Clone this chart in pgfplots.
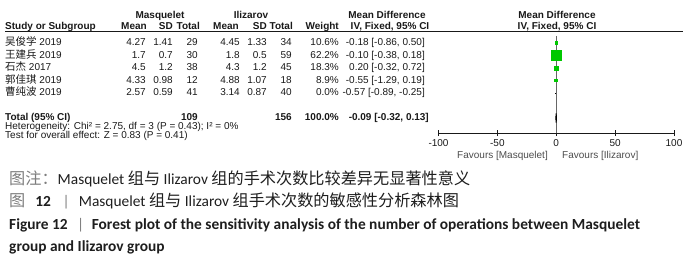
\documentclass[border=0pt]{standalone}
\usepackage{pgfplots}
\pgfplotsset{compat=1.18}
\usepackage{fontspec}
\setmainfont{Liberation Sans}
\newfontfamily\cjk{Noto Sans CJK SC}
\newfontfamily\cjkcap{Noto Sans CJK SC}[Scale=1.05]
\newfontfamily\capfont{Carlito}
\definecolor{boxgreen}{RGB}{0,200,0}
\definecolor{txt}{RGB}{25,25,25}
\definecolor{capgray}{RGB}{125,125,125}
\definecolor{captxt}{RGB}{30,30,30}
\begin{document}
\begin{tikzpicture}
\begin{scope}[x=1pt,y=-1pt]
\useasboundingbox (0,0) rectangle (700,267);
\tikzset{
  t/.style={font=\fontsize{10}{11}\selectfont, text=txt, inner sep=0pt},
  b/.style={font=\fontsize{10}{11}\selectfont\bfseries, text=txt, inner sep=0pt},
  captext/.style={font=\fontsize{15.4}{16}\selectfont\capfont, text=captxt, inner sep=0pt, anchor=base west},
}
% headers
\node[b, anchor=mid] at (160,16) {Masquelet};
\node[b, anchor=mid] at (251,16) {Ilizarov};
\node[b, anchor=mid] at (387,16) {Mean Difference};
\node[b, anchor=mid] at (557,16) {Mean Difference};
\node[b, anchor=mid west] at (5,27) {Study or Subgroup};
\node[b, anchor=mid east] at (147,27) {Mean};
\node[b, anchor=mid east] at (173,27) {SD};
\node[b, anchor=mid east] at (200,27) {Total};
\node[b, anchor=mid east] at (239,27) {Mean};
\node[b, anchor=mid east] at (267,27) {SD};
\node[b, anchor=mid east] at (293,27) {Total};
\node[b, anchor=mid east] at (339,27) {Weight};
\node[b, anchor=mid] at (390,27) {IV, Fixed, 95\% CI};
\node[b, anchor=mid] at (557,27) {IV, Fixed, 95\% CI};
\draw[txt, line width=0.8pt] (5,31.5) -- (683,31.5);
% rows
\foreach \y/\nm/\yr/\ma/\sa/\na/\mb/\sb/\nb/\w/\ci in {
  43/吴俊学/2019/4.27/1.41/29/4.45/1.33/34/10.6\%/{-0.18 [-0.86, 0.50]},
  55.5/王建兵/2019/1.7/0.7/30/1.8/0.5/59/62.2\%/{-0.10 [-0.38, 0.18]},
  68/石杰/2017/4.5/1.2/38/4.3/1.2/45/18.3\%/{0.20 [-0.32, 0.72]},
  80.5/郭佳琪/2019/4.33/0.98/12/4.88/1.07/18/8.9\%/{-0.55 [-1.29, 0.19]},
  93/曹纯波/2019/2.57/0.59/41/3.14/0.87/40/0.0\%/{-0.57 [-0.89, -0.25]}}{
  \node[t, anchor=mid west] at (5,\y) {{\cjk\fontsize{10.5}{11}\selectfont \nm} \yr};
  \node[t, anchor=mid east] at (146,\y) {\ma};
  \node[t, anchor=mid east] at (173,\y) {\sa};
  \node[t, anchor=mid east] at (198,\y) {\na};
  \node[t, anchor=mid east] at (240,\y) {\mb};
  \node[t, anchor=mid east] at (267,\y) {\sb};
  \node[t, anchor=mid east] at (292,\y) {\nb};
  \node[t, anchor=mid east] at (339,\y) {\w};
  \node[t, anchor=mid east] at (425,\y) {\ci};
}
% total
\node[b, anchor=mid west] at (5,118) {Total (95\% CI)};
\node[b, anchor=mid east] at (198,118) {109};
\node[b, anchor=mid east] at (292,118) {156};
\node[b, anchor=mid east] at (339,118) {100.0\%};
\node[b, anchor=mid east] at (429,118) {-0.09 [-0.32, 0.13]};
\node[t, anchor=mid west] at (5,127) {Heterogeneity: Chi² = 2.75, df = 3 (P = 0.43); I² = 0\%};
\node[t, anchor=mid west] at (5,136) {Test for overall effect: Z = 0.83 (P = 0.41)};
% favours
\node[t, anchor=mid east, text=black!70] at (548,155.5) {Favours [Masquelet]};
\node[t, anchor=mid west, text=black!70] at (562,155.5) {Favours [Ilizarov]};
% caption
\node[captext] at (9,184.5) {{\color{capgray}\cjkcap 图注：}Masquelet {\cjkcap 组与} Ilizarov {\cjkcap 组的手术次数比较差异无显著性意义}};
\node[captext] at (9,206) {{\color{capgray}\cjkcap 图}\hspace{0.65em}\textbf{12}\hspace{0.75em}{\color{capgray}|}\hspace{0.6em}Masquelet {\cjkcap 组与} Ilizarov {\cjkcap 组手术次数的敏感性分析森林图}};
\node[captext, font=\fontsize{15.4}{16}\selectfont\capfont\bfseries] at (9,229) {Figure 12\hspace{0.6em}{\mdseries\color{capgray}|}\hspace{0.5em}Forest plot of the sensitivity analysis of the number of operations between Masquelet};
\node[captext, font=\fontsize{15.4}{16}\selectfont\capfont\bfseries] at (9,251) {group and Ilizarov group};
\end{scope}
\begin{axis}[
  at={(438.5pt,-133pt)}, anchor=south west,
  scale only axis, width=235.5pt, height=97pt,
  xmin=-100, xmax=100, ymin=-133, ymax=-36,
  axis x line*=bottom, axis y line=none,
  xtick={-100,-50,0,50,100},
  tick align=center, major tick length=6pt,
  tick style={txt, line width=0.7pt},
  axis line style={txt, line width=0.7pt},
  xticklabel style={font=\fontsize{10}{11}\selectfont, text=txt},
  /pgf/number format/assume math mode=true,
  clip=false,
]
\addplot[black!60, line width=0.6pt] coordinates {(0,-36) (0,-133)};
% confidence intervals
\addplot[black, line width=0.5pt] coordinates {(-0.86,-43) (0.50,-43)};
\addplot[black, line width=0.5pt] coordinates {(-0.38,-55.5) (0.18,-55.5)};
\addplot[black, line width=0.5pt] coordinates {(-0.32,-68) (0.72,-68)};
\addplot[black, line width=0.5pt] coordinates {(-1.29,-80.5) (0.19,-80.5)};
\addplot[black, line width=0.5pt] coordinates {(-0.89,-93) (-0.25,-93)};
% study boxes (size by weight)
\addplot[only marks, mark=square*, mark size=1.3pt, mark options={fill=boxgreen, draw=boxgreen}] coordinates {(-0.18,-43)};
\addplot[only marks, mark=square*, mark size=5pt, mark options={fill=boxgreen, draw=boxgreen}] coordinates {(-0.10,-55.5)};
\addplot[only marks, mark=square*, mark size=2.2pt, mark options={fill=boxgreen, draw=boxgreen}] coordinates {(0.20,-68)};
\addplot[only marks, mark=square*, mark size=1.2pt, mark options={fill=boxgreen, draw=boxgreen}] coordinates {(-0.55,-80.5)};
% pooled diamond
\addplot[fill=black, draw=black, line width=1pt] coordinates {(-0.32,-118) (-0.09,-113.5) (0.13,-118) (-0.09,-122.5)} -- cycle;
\end{axis}
\end{tikzpicture}
\end{document}
